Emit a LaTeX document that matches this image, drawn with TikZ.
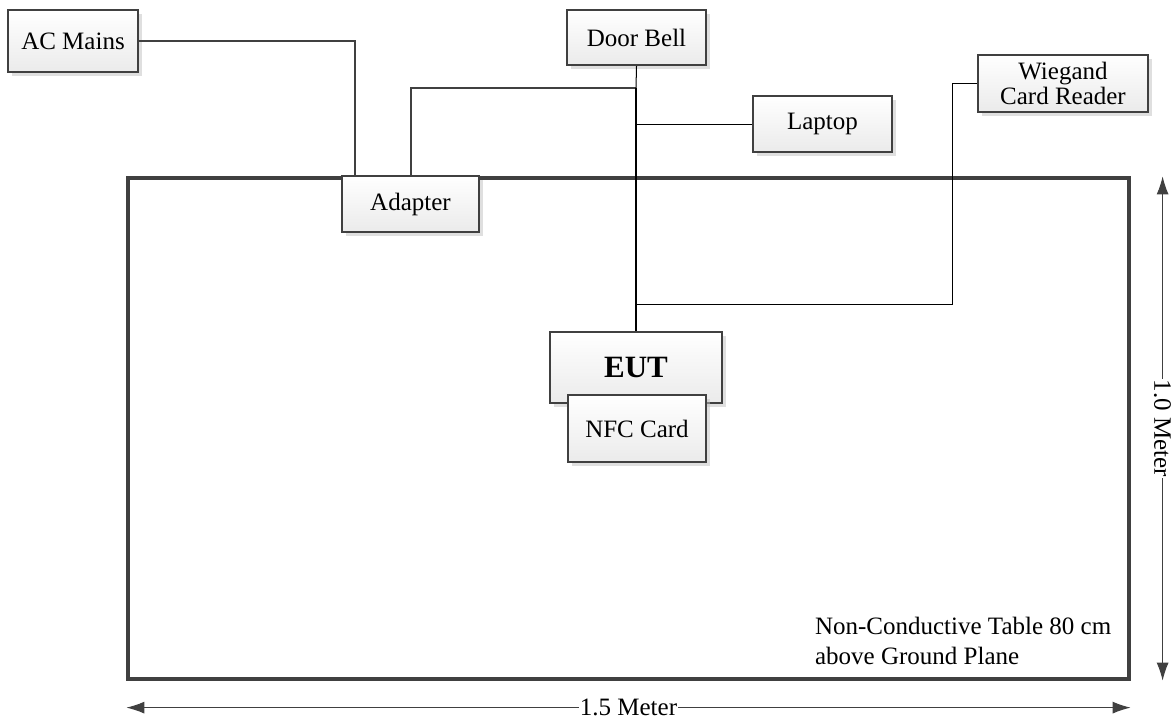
\documentclass[tikz,border=0pt]{standalone}
\usepackage{fontspec}
\setmainfont{Liberation Serif}
\usetikzlibrary{arrows.meta,shadows}

\begin{document}
\begin{tikzpicture}[x=0.5pt, y=-0.5pt, font=\fontsize{12.5pt}{15pt}\selectfont,
block/.style={rectangle, draw=black!75, line width=1pt, top color=white, bottom color=black!8,
      drop shadow={shadow xshift=2pt, shadow yshift=-2pt, fill=black!25, opacity=0.5},
      align=center, inner sep=2pt},
tablebox/.style={rectangle, draw=black!75, line width=1.6pt, minimum width=500.5pt, minimum height=250.5pt},
wire/.style={draw=black!75, line width=1pt},
bus/.style={draw=black, line width=1.3pt},
thinwire/.style={draw=black, line width=0.5pt},
dim/.style={draw=black!75, line width=0.5pt, {Latex[length=9pt,width=6pt]}-{Latex[length=9pt,width=6pt]}},]
 \useasboundingbox (0,0) rectangle (1171,720);

 \node[tablebox] (table) at (628.5,428.5) {};
 \node[block, minimum width=65pt, minimum height=31pt] (acmains) at (73,41) {AC Mains};
 \node[block, minimum width=69.5pt, minimum height=27.5pt] (doorbell) at (636.5,37.5) {Door Bell};
 \node[block, minimum width=69.5pt, minimum height=28pt] (laptop) at (822.5,124) {Laptop};
 \node[block, minimum width=85pt, minimum height=28.5pt, font=\fontsize{12.5pt}{10.5pt}\selectfont] (wiegand) at (1063,83.5) {Wiegand\\Card Reader};
 \node[block, minimum width=68.5pt, minimum height=28pt] (adapter) at (410.5,204) {Adapter};
 \node[block, minimum width=86pt, minimum height=35.5pt, font=\fontsize{15.5pt}{18pt}\selectfont\bfseries] (eut) at (636,367.5) {EUT};
 \node[block, minimum width=69pt, minimum height=33.5pt] (nfc) at (637,428.5) {NFC Card};
 \coordinate (tap) at (636,88);
 \coordinate (wcorner) at (952,304);

 \draw[wire] (acmains.east) -| ([xshift=7pt]adapter.north west);
 \draw[wire] (adapter.north) |- (tap);
 \draw[thinwire] (doorbell.south) -- (tap);
 \draw[bus] (tap) -- (eut.north);
 \draw[thinwire] (laptop.west) -- (laptop.west -| eut.north);
 \draw[thinwire] (wiegand.west) -| (wcorner) -- (wcorner -| eut.north);

 \draw[dim] ([xshift=16pt]table.north east) -- node[rotate=-90, fill=white, inner sep=0.5pt] {1.0 Meter} ([xshift=16pt]table.south east);
 \draw[dim] ([yshift=-13.5pt]table.south west) -- node[fill=white, inner sep=0.5pt] {1.5 Meter} ([yshift=-13.5pt]table.south east);
 \node[anchor=west, align=left] (note) at (808,641) {Non-Conductive Table 80 cm\\above Ground Plane};
\end{tikzpicture}
\end{document}
